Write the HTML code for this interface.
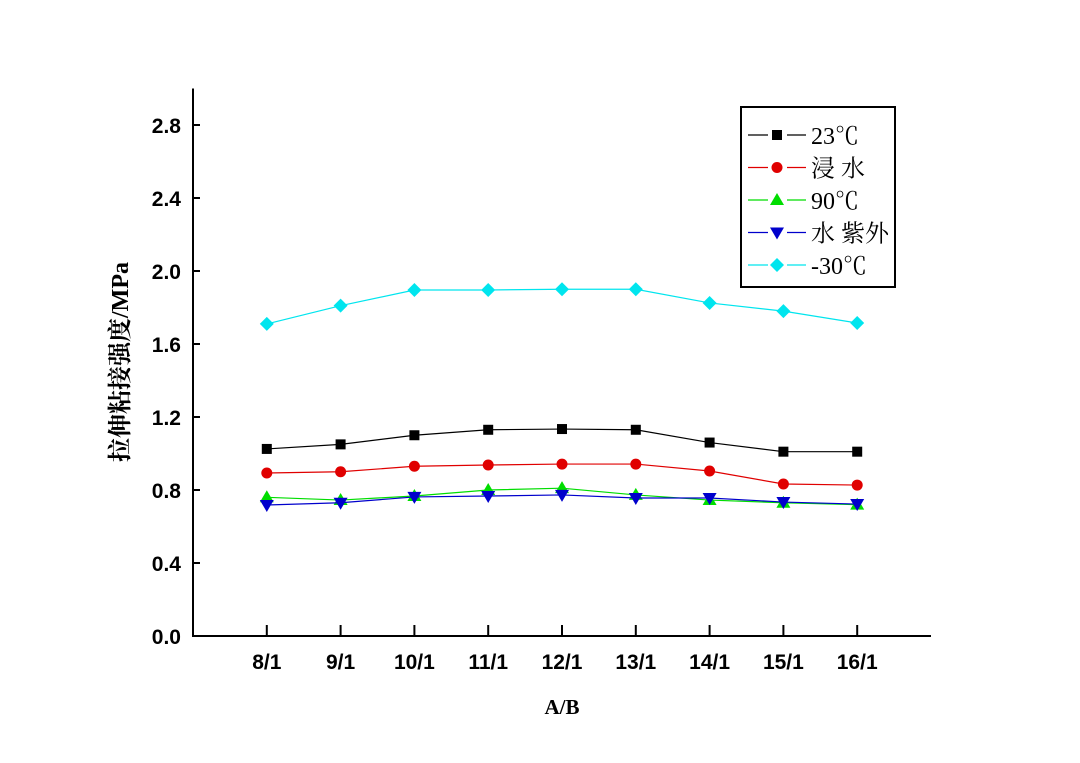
<!DOCTYPE html>
<html><head><meta charset="utf-8"><style>body{margin:0;background:#fff}svg{display:block}</style></head>
<body>
<svg id="c" width="1080" height="763" xmlns="http://www.w3.org/2000/svg">
<text transform="translate(128,362) rotate(-90)" text-anchor="middle" font-family="Liberation Serif, Noto Serif CJK SC, serif" font-size="24" font-weight="bold" fill="#000">拉伸粘接强度/MPa</text>
<text x="562" y="714" text-anchor="middle" font-family="Liberation Serif, serif" font-size="21" font-weight="bold">A/B</text>
<g id="legend"></g>
</svg>
<script>
const categories=["8/1","9/1","10/1","11/1","12/1","13/1","14/1","15/1","16/1"];
const yTicks=[0.0,0.4,0.8,1.2,1.6,2.0,2.4,2.8];
const s23=[1.025,1.05,1.10,1.13,1.134,1.13,1.06,1.01,1.01];
const sWater=[0.893,0.90,0.93,0.937,0.942,0.942,0.904,0.833,0.827];
const s90=[0.76,0.745,0.767,0.80,0.81,0.773,0.745,0.73,0.72];
const sUV=[0.718,0.73,0.762,0.767,0.773,0.756,0.756,0.734,0.723];
const sM30=[1.71,1.81,1.896,1.896,1.90,1.90,1.825,1.78,1.715];
const names=["23℃","浸 水","90℃","水  紫外","-30℃"];
const colors=["#000000","#e00000","#00dd00","#0000cc","#00e5ee"];
const shapes=["square","circle","up","down","diamond"];
const series=[s23,sWater,s90,sUV,sM30];
const NS="http://www.w3.org/2000/svg";
const svg=document.getElementById('c');
const X0=193,X1=931,Y0=636,YT=88.5;
const x=i=>X0+(i+1)*(X1-X0)/(categories.length+1);
const y=v=>Y0-v*(Y0-YT)/3.0;
function el(t,a,p){const e=document.createElementNS(NS,t);for(const k in a)e.setAttribute(k,a[k]);(p||svg).appendChild(e);return e;}
const ax=el('path',{d:`M${X0},${YT}V${Y0}H${X1}`,stroke:'#000','stroke-width':2,fill:'none'});


yTicks.forEach(t=>{
 const l=el('line',{x1:X0,x2:X0+7,y1:y(t),y2:y(t),stroke:'#000','stroke-width':2});
 
 
 const tx=el('text',{x:X0-12,y:y(t)+8,'text-anchor':'end','font-family':'Liberation Sans, sans-serif','font-size':21,'font-weight':'bold'});
 tx.textContent=t.toFixed(1);
 
 
});
categories.forEach((c,i)=>{
 const l=el('line',{x1:x(i),x2:x(i),y1:Y0,y2:Y0-11,stroke:'#000','stroke-width':2});
 
 
 const tx=el('text',{x:x(i),y:Y0+33,'text-anchor':'middle','font-family':'Liberation Sans, sans-serif','font-size':21,'font-weight':'bold'});
 tx.textContent=c;
 
 
});
function marker(shape,cx,cy,col,parent){
 let e;
 if(shape==='square')e=el('rect',{x:cx-5,y:cy-5,width:10,height:10,fill:col},parent);
 else if(shape==='circle')e=el('circle',{cx:cx,cy:cy,r:5.5,fill:col},parent);
 else if(shape==='up')e=el('polygon',{points:`${cx},${cy-7} ${cx-7},${cy+5} ${cx+7},${cy+5}`,fill:col},parent);
 else if(shape==='down')e=el('polygon',{points:`${cx},${cy+7} ${cx-7},${cy-5} ${cx+7},${cy-5}`,fill:col},parent);
 else e=el('polygon',{points:`${cx},${cy-7} ${cx+7},${cy} ${cx},${cy+7} ${cx-7},${cy}`,fill:col},parent);
 return e;
}
series.forEach((s,k)=>{
 const g=el('g',{});
 
 
 const p=el('polyline',{points:s.map((v,i)=>x(i)+','+y(v)).join(' '),fill:'none',stroke:colors[k],'stroke-width':1.2},g);
 
 
 s.forEach((v,i)=>{const m=marker(shapes[k],x(i),y(v),colors[k],g);
  
  });
});
const lg=document.getElementById('legend');
el('rect',{x:741,y:107,width:154,height:180,fill:'#fff',stroke:'#000','stroke-width':2},lg);
names.forEach((n,k)=>{
 const cy=135+k*32.5;
 el('line',{x1:748,x2:768,y1:cy,y2:cy,stroke:colors[k],'stroke-width':1.2},lg);
 el('line',{x1:787,x2:806,y1:cy,y2:cy,stroke:colors[k],'stroke-width':1.2},lg);
 marker(shapes[k],777,cy,colors[k],lg);
 const t=el('text',{x:811,y:cy+9,'font-family':'Liberation Serif, Noto Serif CJK SC, serif','font-size':24},lg);
 t.textContent=n;
 
 
});
</script>
</body></html>
